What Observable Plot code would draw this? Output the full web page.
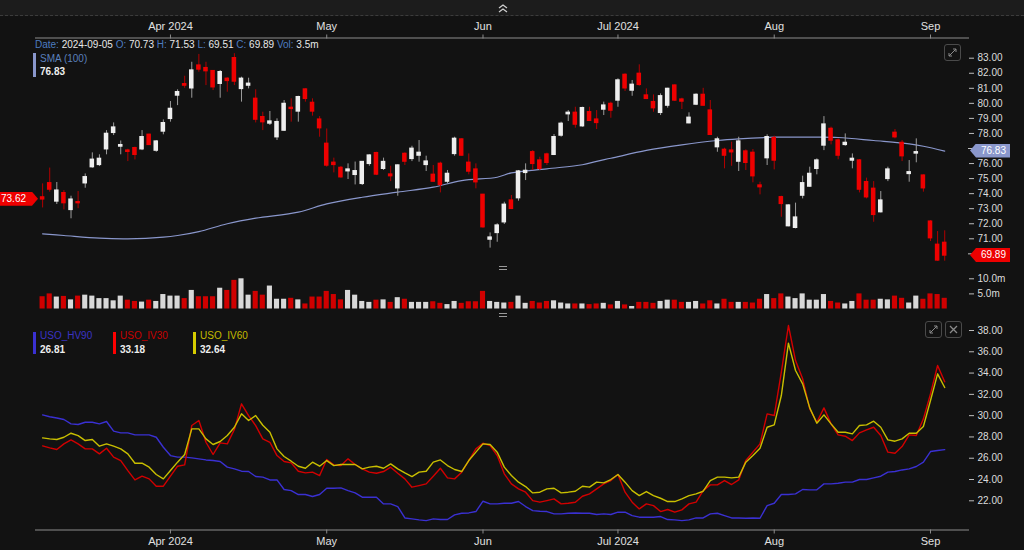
<!DOCTYPE html>
<html>
<head>
<meta charset="utf-8">
<script src="https://cdn.jsdelivr.net/npm/d3@7"></script>
<script src="https://cdn.jsdelivr.net/npm/@observablehq/plot@0.6"></script>
<style>
  html, body { margin: 0; padding: 0; background: #121212; }
  #wrap { position: relative; width: 1024px; height: 550px; background: #121212; overflow: hidden;
          font-family: "Liberation Sans", Arial, sans-serif; color: #e6e6e6; }
  #wrap svg.plot { position: absolute; left: 0; top: 0; overflow: visible; }
  .abs { position: absolute; white-space: nowrap; }
  .k { color: #4d7cc0; }
  .tag { position: absolute; height: 14px; line-height: 14px; font-size: 10px; color: #fff; text-align: right;
         padding-right: 4px; box-sizing: border-box; }
  .icon { position: absolute; width: 17px; height: 17px; border: 1px solid #4a4a4a; border-radius: 3px; box-sizing: border-box; }
</style>
</head>
<body>
<div id="wrap"></div>
<script>
// ---------- data ----------
const dates = [
 "2024-03-05","2024-03-06","2024-03-07","2024-03-08","2024-03-11","2024-03-12","2024-03-13","2024-03-14","2024-03-15","2024-03-18",
 "2024-03-19","2024-03-20","2024-03-21","2024-03-22","2024-03-25","2024-03-26","2024-03-27","2024-03-28",
 "2024-04-01","2024-04-02","2024-04-03","2024-04-04","2024-04-05","2024-04-08","2024-04-09","2024-04-10","2024-04-11","2024-04-12",
 "2024-04-15","2024-04-16","2024-04-17","2024-04-18","2024-04-19","2024-04-22","2024-04-23","2024-04-24","2024-04-25","2024-04-26",
 "2024-04-29","2024-04-30",
 "2024-05-01","2024-05-02","2024-05-03","2024-05-06","2024-05-07","2024-05-08","2024-05-09","2024-05-10","2024-05-13","2024-05-14",
 "2024-05-15","2024-05-16","2024-05-17","2024-05-20","2024-05-21","2024-05-22","2024-05-23","2024-05-24","2024-05-28","2024-05-29",
 "2024-05-30","2024-05-31",
 "2024-06-03","2024-06-04","2024-06-05","2024-06-06","2024-06-07","2024-06-10","2024-06-11","2024-06-12","2024-06-13","2024-06-14",
 "2024-06-17","2024-06-18","2024-06-20","2024-06-21","2024-06-24","2024-06-25","2024-06-26","2024-06-27","2024-06-28",
 "2024-07-01","2024-07-02","2024-07-03","2024-07-05","2024-07-08","2024-07-09","2024-07-10","2024-07-11","2024-07-12","2024-07-15",
 "2024-07-16","2024-07-17","2024-07-18","2024-07-19","2024-07-22","2024-07-23","2024-07-24","2024-07-25","2024-07-26","2024-07-29",
 "2024-07-30","2024-07-31",
 "2024-08-01","2024-08-02","2024-08-05","2024-08-06","2024-08-07","2024-08-08","2024-08-09","2024-08-12","2024-08-13","2024-08-14",
 "2024-08-15","2024-08-16","2024-08-19","2024-08-20","2024-08-21","2024-08-22","2024-08-23","2024-08-26","2024-08-27","2024-08-28",
 "2024-08-29","2024-08-30",
 "2024-09-03","2024-09-04","2024-09-05"
];

const opens = [
 73.75,74.69,73.48,74.03,72.92,73.43,74.69,75.76,75.91,76.95, 78.04,77.13,76.86,77.02,76.95,77.91,76.86,78.13,78.97,80.52,
 81.27,81.00,82.51,82.34,82.14,81.30,81.63,83.00,80.96,81.18, 80.30,79.08,78.66,77.75,78.19,79.70,79.46,80.92,80.03,78.92,
 77.31,76.05,75.71,75.49,75.25,74.65,75.98,76.69,75.65,75.27, 74.36,76.64,76.31,76.53,75.91,75.25,75.98,74.80,76.64,77.60,
 76.05,75.60,73.92,70.95,71.39,72.10,73.54,73.70,75.38,76.75, 76.20,76.60,76.58,77.86,79.28,79.37,78.48,79.41,78.92,79.59,
 79.96,80.19,81.89,80.85,81.96,80.52,80.08,79.37,79.85,81.18, 80.25,78.68,79.92,80.56,79.52,77.09,76.91,76.86,76.13,76.80,
 76.71,74.54,76.36,77.69,73.76,71.84,71.73,73.87,74.47,75.65, 77.20,78.30,77.53,77.24,76.20,76.20,74.76,74.32,72.77,74.98,
 78.04,77.37,75.31,76.67,75.20,72.14,70.60,70.73
];
const highs = [
 74.65,75.70,74.74,74.20,73.83,74.14,75.31,76.71,76.58,78.19, 78.70,77.50,76.95,77.09,78.19,77.95,77.53,78.90,80.12,80.90,
 81.80,82.73,83.25,82.73,82.18,82.18,81.70,83.30,81.74,81.67, 80.90,79.41,79.46,78.97,80.19,80.30,80.47,80.96,80.30,79.12,
 78.30,76.36,75.80,75.98,76.10,76.13,76.58,76.75,76.36,75.82, 75.91,76.71,77.15,77.53,76.49,75.87,76.09,75.54,77.75,77.64,
 76.64,75.98,73.95,71.39,72.00,73.43,73.88,75.54,75.98,76.86, 76.42,76.69,77.93,78.75,79.52,79.74,79.74,79.74,79.52,80.08,
 80.08,81.63,81.96,81.52,82.56,80.96,80.56,80.63,81.00,81.23, 80.34,79.37,80.63,81.00,80.19,77.75,77.02,77.42,77.75,76.91,
 76.93,74.76,77.91,77.82,73.83,73.25,73.37,75.16,75.76,76.31, 79.12,78.42,77.64,77.97,76.64,76.27,75.03,74.80,74.14,75.76,
 78.26,77.53,76.20,77.64,75.25,72.20,71.48,71.53
];
const lows = [
 73.05,74.10,73.28,72.92,72.33,73.00,74.36,75.69,75.80,76.58, 77.86,76.58,76.13,76.24,76.86,77.20,76.75,77.91,78.75,79.85,
 81.00,80.34,82.07,81.18,80.85,80.34,80.74,81.18,80.08,80.96, 78.70,78.19,78.53,77.53,78.13,78.75,78.75,80.08,79.15,77.75,
 75.76,75.38,75.03,74.94,74.58,74.54,75.82,75.20,75.54,74.80, 73.83,75.87,76.13,76.09,75.47,74.76,74.05,74.65,76.49,76.49,
 75.25,74.32,71.70,70.38,70.77,71.95,72.94,73.50,74.87,75.54, 75.54,75.87,76.53,77.75,78.79,78.35,78.42,78.79,78.26,79.19,
 79.01,79.74,80.79,80.47,81.14,80.25,79.41,79.19,79.68,80.12, 79.59,78.64,79.85,79.81,77.86,76.75,75.65,75.82,75.47,75.54,
 74.72,73.92,75.87,75.58,72.43,71.80,71.66,73.65,74.43,75.25, 76.86,77.24,76.25,77.15,75.65,74.05,73.65,72.10,72.72,74.80,
 77.64,76.13,74.76,76.05,74.10,70.82,69.50,69.51
];
const closes = [
 73.62,74.27,74.20,73.37,73.60,73.37,75.09,76.25,76.31,77.97, 78.39,77.22,76.78,76.58,77.75,77.24,77.46,78.68,79.63,80.74,
 81.18,82.18,82.25,82.14,81.07,82.07,81.49,81.45,81.63,81.30, 78.92,78.75,78.79,78.75,79.96,79.63,80.41,80.30,79.46,78.35,
 75.87,75.91,75.09,75.60,75.49,76.10,76.53,75.27,76.10,75.16, 75.87,76.13,76.98,76.71,76.13,74.80,74.58,75.31,77.64,76.53,
 75.47,74.76,71.77,71.08,71.88,73.26,72.99,75.47,75.51,75.98, 75.65,76.05,77.75,78.64,79.37,78.59,79.68,78.84,78.70,79.85,
 79.52,81.52,81.00,81.23,81.23,80.30,79.68,80.47,80.96,80.19, 80.12,79.04,80.56,79.85,77.91,77.60,76.53,76.75,77.46,76.05,
 75.16,74.43,77.75,76.20,73.32,73.21,72.41,74.69,75.31,76.20, 78.59,77.53,76.53,77.37,76.31,74.27,73.76,72.59,73.54,75.60,
 77.75,76.49,75.42,76.75,74.36,71.04,69.56,69.89
];
// volume, millions
const volumes = [
 4.06,5.00,3.96,4.17,3.02,4.27,4.58,4.27,3.44,3.44, 2.71,4.27,2.92,2.50,2.29,2.92,2.50,4.79,4.27,4.27,
 3.44,6.15,4.06,4.06,4.06,6.88,6.15,9.48,10.0,4.58, 5.83,4.58,7.60,3.23,3.23,3.54,3.02,1.67,3.96,3.96,
 5.83,4.79,3.02,6.15,4.58,2.50,2.19,2.92,3.02,2.19, 3.75,3.23,2.19,2.19,2.19,2.40,1.88,1.46,2.50,1.88,
 2.40,2.40,5.83,2.50,2.19,1.98,2.19,4.27,1.88,2.50, 1.98,2.50,2.71,1.98,1.67,1.67,1.67,1.46,1.67,1.88,
 1.35,2.50,1.35,0.83,2.19,2.19,1.88,2.50,2.92,2.92, 2.19,2.19,2.50,1.67,2.71,1.67,3.23,2.19,2.19,2.19,
 1.98,3.23,4.79,3.44,5.00,3.96,3.44,5.00,2.92,2.92, 4.79,2.50,1.98,1.67,2.50,5.00,2.92,2.92,3.23,3.02,
 4.27,3.54,1.98,4.27,3.23,5.00,4.79,3.54
];
const smaIdx = [1,4,9,13,18,20,23,27,31,37,41,46,51,56,60,65,67,72,77,79,81,86,91,96,99,104,109,113,118,123,125,128];
const smaVal = [71.33,71.22,71.04,71.00,71.11,71.22,71.48,72.00,72.37,72.77,73.32,73.76,74.10,74.43,74.87,75.09,75.38,75.65,
                75.92,76.15,76.35,76.87,77.24,77.53,77.64,77.75,77.75,77.73,77.53,77.31,77.15,76.83];

const hv90 = [
 30.07,29.90,29.78,29.64,29.23,29.17,29.38,29.38,29.23,29.45, 28.54,28.38,28.38,28.19,28.19,28.19,27.97,27.03,26.25,26.10,
 26.10,26.03,25.94,25.84,25.78,25.69,25.16,25.00,24.78,24.75, 24.28,24.22,23.96,23.96,23.06,22.96,22.59,22.59,22.40,22.59,
 23.18,23.18,23.21,22.96,22.74,22.34,22.34,22.34,21.71,21.71, 21.46,20.39,20.30,20.21,20.14,20.30,20.24,20.24,20.68,20.83,
 20.86,20.99,21.96,21.71,21.71,21.77,21.77,21.93,21.46,21.08, 21.02,20.99,20.77,20.77,20.83,20.86,20.83,20.83,20.71,20.77,
 20.71,20.93,20.93,20.61,20.46,20.46,20.46,20.52,20.24,20.21, 20.14,20.21,20.39,20.39,20.77,20.83,20.61,20.39,20.39,20.36,
 20.39,20.36,21.55,21.77,22.59,22.59,22.65,23.06,23.03,23.03, 23.59,23.59,23.65,23.75,23.75,24.00,24.00,24.15,24.31,24.69,
 24.75,24.90,25.00,25.22,25.63,26.63,26.72,26.81
];
const iv30 = [
 27.16,26.97,26.82,27.35,27.72,27.35,26.88,26.88,26.41,26.94, 26.10,25.78,24.84,23.96,24.31,24.06,23.37,23.37,24.31,25.25,
 25.37,29.07,29.54,27.50,26.35,27.44,27.35,28.70,31.11,30.01, 29.07,27.82,27.50,26.25,25.69,25.56,24.78,24.62,24.69,24.37,
 25.88,25.37,25.31,25.94,25.41,25.00,24.69,24.59,24.75,25.16, 24.59,24.06,23.28,23.43,23.59,24.31,25.06,24.15,24.06,24.69,
 25.78,26.88,27.41,27.19,26.25,24.53,23.59,23.12,22.81,22.02, 21.87,22.02,22.18,21.71,21.77,21.87,22.43,22.65,23.12,23.59,
 23.90,24.47,22.81,21.87,21.24,21.71,21.55,20.99,21.18,20.93, 21.15,21.71,21.87,22.96,23.50,23.50,23.90,23.53,23.96,25.78,
 26.57,27.35,30.17,30.01,34.08,38.47,35.18,33.46,30.64,29.38, 30.73,29.23,28.19,28.07,27.66,28.38,28.66,28.91,28.13,26.57,
 26.47,27.10,28.19,28.13,29.70,32.05,34.71,33.18
];
const iv60 = [
 27.91,27.82,27.76,27.97,28.35,28.13,27.66,27.76,27.13,27.35, 27.13,26.88,26.41,25.53,25.53,25.16,24.47,24.06,24.84,25.63,
 26.35,28.76,28.76,27.82,27.29,27.57,28.13,28.91,30.17,29.54, 30.01,29.10,28.44,26.88,26.16,25.72,25.25,25.06,25.63,25.25,
 25.78,25.31,25.41,25.41,25.41,25.00,25.16,25.25,25.06,25.47, 25.00,24.62,24.28,24.69,24.78,25.63,25.84,25.31,24.94,24.75,
 25.78,26.57,27.35,27.29,26.57,25.16,24.37,23.75,23.34,22.74, 22.81,23.12,23.18,22.74,22.81,22.90,23.37,23.28,23.75,23.68,
 24.00,24.47,23.75,22.96,22.49,22.87,22.49,22.24,21.93,21.93, 22.18,22.49,22.65,22.90,23.90,24.22,24.22,24.15,24.22,25.63,
 26.25,26.94,28.91,29.13,31.89,36.81,34.24,32.99,30.73,29.29, 30.07,29.23,28.44,28.44,28.29,29.07,29.13,29.48,28.91,27.72,
 27.60,27.82,28.35,28.35,28.98,31.42,33.93,32.64
];

const monthTickIdx = [19, 41, 63, 82, 104, 126];
const monthTickLabels = ["Apr 2024", "May", "Jun", "Jul 2024", "Aug", "Sep"];
const priceTicks = [71,72,73,74,75,76,78,79,80,81,82,83];   // labelled price ticks
const priceHiddenTicks = [70, 77];                           // tick marks whose labels sit under the price tags
const volTicks = [5, 10];
const ivTicks = [22,24,26,28,30,32,34,36,38];

// ---------- styling ----------
const FONT = '"Liberation Sans", Arial, sans-serif';
const UP = "#eeeeee", UP_WICK = "#9c9c9c", DOWN = "#ee0000", DOWN_WICK = "#b00000";
const VOL_UP = "#d8d8d8", VOL_DOWN = "#d00000";
const C_HV = "#3a30d2", C_IV30 = "#d20000", C_IV60 = "#c9bf00", C_SMA = "#8a97cc";

const candles = dates.map((d, k) => ({
  i: k + 1, date: d, o: opens[k], h: highs[k], l: lows[k], c: closes[k], v: volumes[k]
}));
const sma = smaIdx.map((i, k) => ({i, v: smaVal[k]}));

const X_MAX = 131.35;
const X = {domain: [0, X_MAX]};
const base = {
  width: 1024, height: 550, marginLeft: 35, marginRight: 56, marginTop: 37.5, marginBottom: 20.5,
  color: {type: "identity"},
  style: {background: "transparent", color: "#d8d8d8", fontFamily: FONT, fontSize: "10px", overflow: "visible"}
};
const monthFmt = d => monthTickLabels[monthTickIdx.indexOf(d)];

const wrap = document.getElementById("wrap");

// top bar
wrap.insertAdjacentHTML("beforeend", `
  <div class="abs" style="left:0;top:0;width:1024px;height:15px;background:#1c1c1c;border-bottom:1px dashed #3c3c3c;"></div>
  <svg class="abs" style="left:497px;top:3px" width="12" height="11"><polyline points="2,5 6,2 10,5" fill="none" stroke="#cfcfcf" stroke-width="1.3"/><polyline points="2,9 6,6 10,9" fill="none" stroke="#cfcfcf" stroke-width="1.3"/></svg>
`);

// ---------- price panel ----------
const pricePlot = Plot.plot({
  ...base,
  x: X,
  y: {domain: [70, 83], range: [253.35, 57.7]},
  marks: [
    Plot.frame({anchor: "top", stroke: "#8c8c8c"}),
    Plot.axisX({anchor: "top", ticks: monthTickIdx, tickFormat: monthFmt, tickSize: 4, tickPadding: 4.5,
                fontSize: 11, stroke: "#8c8c8c", fill: "#e0e0e0", label: null}),
    Plot.axisY({anchor: "right", ticks: priceTicks, tickFormat: d3.format(".2f"), tickSize: 5, tickPadding: 4,
                fontSize: 10, stroke: "#bdbdbd", fill: "#dcdcdc", label: null}),
    Plot.ruleY(priceHiddenTicks, {x1: X_MAX, x2: X_MAX + 0.7, stroke: "#bdbdbd"}),
    Plot.line(sma, {x: "i", y: "v", stroke: C_SMA, strokeWidth: 1.2, curve: "catmull-rom"}),
    Plot.ruleX(candles, {x: "i", y1: "l", y2: "h", stroke: d => d.c >= d.o ? UP_WICK : DOWN_WICK, strokeWidth: 1}),
    Plot.rect(candles, {x1: d => d.i - 0.32, x2: d => d.i + 0.32, y1: "o", y2: "c",
                        insetTop: -0.7, insetBottom: -0.7, fill: d => d.c >= d.o ? UP : DOWN})
  ]
});
pricePlot.classList.add("plot");
wrap.appendChild(pricePlot);

// ---------- volume panel ----------
const volPlot = Plot.plot({
  ...base,
  x: {...X, axis: null},
  y: {domain: [0, 10], range: [308.5, 278.3]},
  marks: [
    Plot.axisY({anchor: "right", ticks: volTicks, tickFormat: d => d.toFixed(1) + "m", tickSize: 5, tickPadding: 4,
                fontSize: 10, stroke: "#bdbdbd", fill: "#dcdcdc", label: null}),
    Plot.rect(candles, {x1: d => d.i - 0.36, x2: d => d.i + 0.36, y1: 0, y2: "v",
                        fill: d => d.c >= d.o ? VOL_UP : VOL_DOWN})
  ]
});
volPlot.classList.add("plot");
wrap.appendChild(volPlot);

// ---------- volatility panel ----------
const ivPlot = Plot.plot({
  ...base,
  x: X,
  y: {domain: [22, 38], range: [500.3, 330]},
  marks: [
    Plot.frame({anchor: "bottom", stroke: "#8c8c8c"}),
    Plot.axisX({anchor: "bottom", ticks: monthTickIdx, tickFormat: monthFmt, tickSize: 4, tickPadding: 3,
                fontSize: 11, stroke: "#8c8c8c", fill: "#e0e0e0", label: null}),
    Plot.axisY({anchor: "right", ticks: ivTicks, tickFormat: d3.format(".2f"), tickSize: 5, tickPadding: 4,
                fontSize: 10, stroke: "#bdbdbd", fill: "#dcdcdc", label: null}),
    Plot.line(hv90, {x: (d, k) => k + 1, y: d => d, stroke: C_HV, strokeWidth: 1.4}),
    Plot.line(iv30, {x: (d, k) => k + 1, y: d => d, stroke: C_IV30, strokeWidth: 1.4}),
    Plot.line(iv60, {x: (d, k) => k + 1, y: d => d, stroke: C_IV60, strokeWidth: 1.4})
  ]
});
ivPlot.classList.add("plot");
wrap.appendChild(ivPlot);

// ---------- overlays (header, legends, price tags, icons) ----------
const last = candles[candles.length - 1];
const first = candles[0];
const py = pricePlot.scale("y");
const lastSma = smaVal[smaVal.length - 1];
const fmt2 = d3.format(".2f");

wrap.insertAdjacentHTML("beforeend", `
  <div class="abs" style="left:35px;top:38.5px;font-size:10px;line-height:12px;color:#e8e8e8">
    <span class="k">Date:</span> ${last.date} <span class="k">O:</span> ${fmt2(last.o)} <span class="k">H:</span> ${fmt2(last.h)}
    <span class="k">L:</span> ${fmt2(last.l)} <span class="k">C:</span> ${fmt2(last.c)} <span class="k">Vol:</span> ${last.v.toFixed(1)}m
  </div>
  <div class="abs" style="left:33px;top:53px;width:3px;height:24px;background:${C_SMA}"></div>
  <div class="abs" style="left:40px;top:53px;font-size:10px;line-height:12px;color:#5a80bd">SMA (100)</div>
  <div class="abs" style="left:40px;top:66px;font-size:10px;line-height:12px;color:#eeeeee;font-weight:bold">${fmt2(lastSma)}</div>

  <div class="tag" style="left:970px;top:${py.apply(lastSma) - 7}px;width:40px;background:${C_SMA};
       clip-path:polygon(0 50%,6px 0,100% 0,100% 100%,6px 100%)">${fmt2(lastSma)}</div>
  <div class="tag" style="left:970px;top:${py.apply(last.c) - 7}px;width:40px;background:#ee0000;
       clip-path:polygon(0 50%,6px 0,100% 0,100% 100%,6px 100%)">${fmt2(last.c)}</div>
  <div class="tag" style="left:0px;top:${py.apply(first.c) - 7}px;width:38px;background:#ee0000;text-align:left;padding-left:1px;
       clip-path:polygon(0 0,32px 0,100% 50%,32px 100%,0 100%)">${fmt2(first.c)}</div>

  <div class="icon" style="left:944px;top:44px">
    <svg width="15" height="15" style="position:absolute;left:0;top:0"><path d="M4 11 L11 4 M8 4 L11 4 L11 7 M4 8 L4 11 L7 11" fill="none" stroke="#8a8a8a" stroke-width="1"/></svg>
  </div>
  <div class="icon" style="left:925px;top:321px">
    <svg width="15" height="15" style="position:absolute;left:0;top:0"><path d="M4 11 L11 4 M8 4 L11 4 L11 7 M4 8 L4 11 L7 11" fill="none" stroke="#8a8a8a" stroke-width="1"/></svg>
  </div>
  <div class="icon" style="left:945px;top:321px">
    <svg width="15" height="15" style="position:absolute;left:0;top:0"><path d="M4 4 L11 11 M11 4 L4 11" fill="none" stroke="#8a8a8a" stroke-width="1.3"/></svg>
  </div>

  <div class="abs" style="left:499px;top:266px;width:8px;height:1px;background:#9a9a9a"></div>
  <div class="abs" style="left:499px;top:269px;width:8px;height:1px;background:#9a9a9a"></div>
  <div class="abs" style="left:499px;top:313px;width:8px;height:1px;background:#9a9a9a"></div>
  <div class="abs" style="left:499px;top:316px;width:8px;height:1px;background:#9a9a9a"></div>
`);

const legendItems = [
  {name: "USO_HV90", color: C_HV, text: "#3b32c4", value: hv90[hv90.length - 1], left: 33},
  {name: "USO_IV30", color: "#ff0000", text: "#c80000", value: iv30[iv30.length - 1], left: 113},
  {name: "USO_IV60", color: "#d6cc00", text: "#c4ba00", value: iv60[iv60.length - 1], left: 193}
];
for (const it of legendItems) {
  wrap.insertAdjacentHTML("beforeend", `
    <div class="abs" style="left:${it.left}px;top:332px;width:3px;height:22px;background:${it.color}"></div>
    <div class="abs" style="left:${it.left + 7}px;top:330px;font-size:10px;line-height:12px;color:${it.text}">${it.name}</div>
    <div class="abs" style="left:${it.left + 7}px;top:343.5px;font-size:10px;line-height:12px;color:#eeeeee;font-weight:bold">${fmt2(it.value)}</div>
  `);
}
</script>
</body>
</html>
